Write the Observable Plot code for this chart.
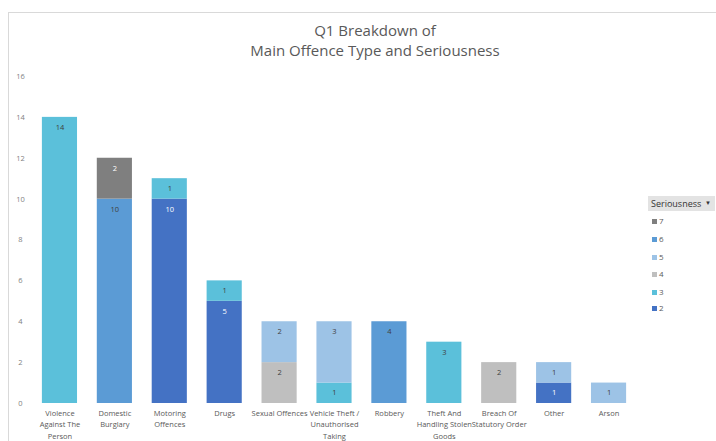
<!DOCTYPE html>
<html>
<head>
<meta charset="utf-8">
<script src="https://cdn.jsdelivr.net/npm/d3@7"></script>
<script src="https://cdn.jsdelivr.net/npm/@observablehq/plot@0.6"></script>
<style>
  html, body { margin: 0; padding: 0; background: #fff; }
  #wrap { position: relative; width: 716px; height: 441px; overflow: hidden; font-family: "Open Sans", "Liberation Sans", sans-serif; }
  #frame { position: absolute; left: 8px; top: 12px; width: 720px; height: 440px; border-left: 1px solid #d9d9d9; border-top: 1px solid #d9d9d9; box-sizing: border-box; }
  #title { position: absolute; left: 0; width: 750px; top: 20px; text-align: center; color: #595959; font-size: 15px; line-height: 20px; }
  #chart { position: absolute; left: 0; top: 0; }
  #legend { position: absolute; left: 648px; top: 196px; font-size: 8px; color: #595959; }
  #legend .hdr { background: #e3e3e3; width: 67px; height: 15px; line-height: 15px; font-size: 9px; color: #333; padding-left: 3px; box-sizing: border-box; position: relative; }
  #legend .hdr span.arr { position: absolute; right: 4px; top: 0; font-size: 6px; }
  #legend .item { position: absolute; left: 4px; height: 10px; line-height: 10px; white-space: nowrap; }
  #legend .sw { display: inline-block; width: 5px; height: 5px; margin-right: 2px; vertical-align: 0px; }
</style>
</head>
<body>
<div id="wrap">
  <div id="frame"></div>
  <div id="chart"></div>
  <div id="title">Q1 Breakdown of<br>Main Offence Type and Seriousness</div>
  <div id="legend"></div>
</div>
<script>
const categories = [
  "Violence\nAgainst The\nPerson",
  "Domestic\nBurglary",
  "Motoring\nOffences",
  "Drugs",
  "Sexual Offences",
  "Vehicle Theft /\nUnauthorised\nTaking",
  "Robbery",
  "Theft And\nHandling Stolen\nGoods",
  "Breach Of\nStatutory Order",
  "Other",
  "Arson"
];
const seriousnessLevels = ["2", "3", "4", "5", "6", "7"];
// values per seriousness level, aligned with categories (0 = absent)
const s2 = [0, 0, 10, 5, 0, 0, 0, 0, 0, 1, 0];
const s3 = [14, 0, 1, 1, 0, 1, 0, 3, 0, 0, 0];
const s4 = [0, 0, 0, 0, 2, 0, 0, 0, 2, 0, 0];
const s5 = [0, 0, 0, 0, 2, 3, 0, 0, 0, 1, 1];
const s6 = [0, 10, 0, 0, 0, 0, 4, 0, 0, 0, 0];
const s7 = [0, 2, 0, 0, 0, 0, 0, 0, 0, 0, 0];
const yTicks = [0, 2, 4, 6, 8, 10, 12, 14, 16];

const colors = {"2": "#4472c4", "3": "#5bc0da", "4": "#bfbfbf", "5": "#9dc3e6", "6": "#5b9bd5", "7": "#7f7f7f"};
const labelColors = {"2": "#ffffff", "3": "#404040", "4": "#404040", "5": "#404040", "6": "#404040", "7": "#ffffff"};

const series = {"2": s2, "3": s3, "4": s4, "5": s5, "6": s6, "7": s7};
const data = [];
for (const s of seriousnessLevels) {
  series[s].forEach((v, i) => { if (v > 0) data.push({category: categories[i], level: s, value: v}); });
}

const stackOpts = {x: "category", y: "value", order: seriousnessLevels, z: "level"};

const chart = Plot.plot({
  width: 716,
  height: 441,
  marginLeft: 32,
  marginRight: 80,
  marginTop: 76,
  marginBottom: 38,
  style: {fontFamily: "'Open Sans', 'Liberation Sans', sans-serif", background: "transparent"},
  x: {domain: categories, paddingInner: 0.36, paddingOuter: 0.18, round: false, label: null},
  y: {domain: [0, 16], label: null},
  color: {domain: seriousnessLevels, range: seriousnessLevels.map(s => colors[s])},
  marks: [
    Plot.axisY({ticks: yTicks, tickSize: 0, tickPadding: 0, textAnchor: "middle", dx: -12, fontSize: 7.5, fill: "#7f7f7f", label: null}),
    Plot.axisX({tickSize: 0, tickPadding: 4, fontSize: 7.5, fill: "#595959", lineHeight: 1.55, label: null}),
    Plot.ruleY([0], {x1: -1, stroke: "#d9d9d9", strokeWidth: 1}),
    Plot.barY(data, Plot.stackY({...stackOpts, fill: "level"})),
    Plot.text(data, Plot.stackY2({
      ...stackOpts,
      text: d => String(d.value),
      fill: d => labelColors[d.level],
      fontSize: 7.5,
      dy: 10,
      lineAnchor: "middle"
    }))
  ]
});

document.getElementById("chart").appendChild(chart);

// Legend
const legend = document.getElementById("legend");
const hdr = document.createElement("div");
hdr.className = "hdr";
hdr.innerHTML = 'Seriousness<span class="arr">&#9660;</span>';
legend.appendChild(hdr);
const legendOrder = seriousnessLevels.slice().reverse();
const legendY = [20, 38, 56, 73, 91, 107];
legendOrder.forEach((s, i) => {
  const it = document.createElement("div");
  it.className = "item";
  it.style.top = legendY[i] + "px";
  it.innerHTML = `<span class="sw" style="background:${colors[s]}"></span>${s}`;
  legend.appendChild(it);
});
</script>
</body>
</html>
